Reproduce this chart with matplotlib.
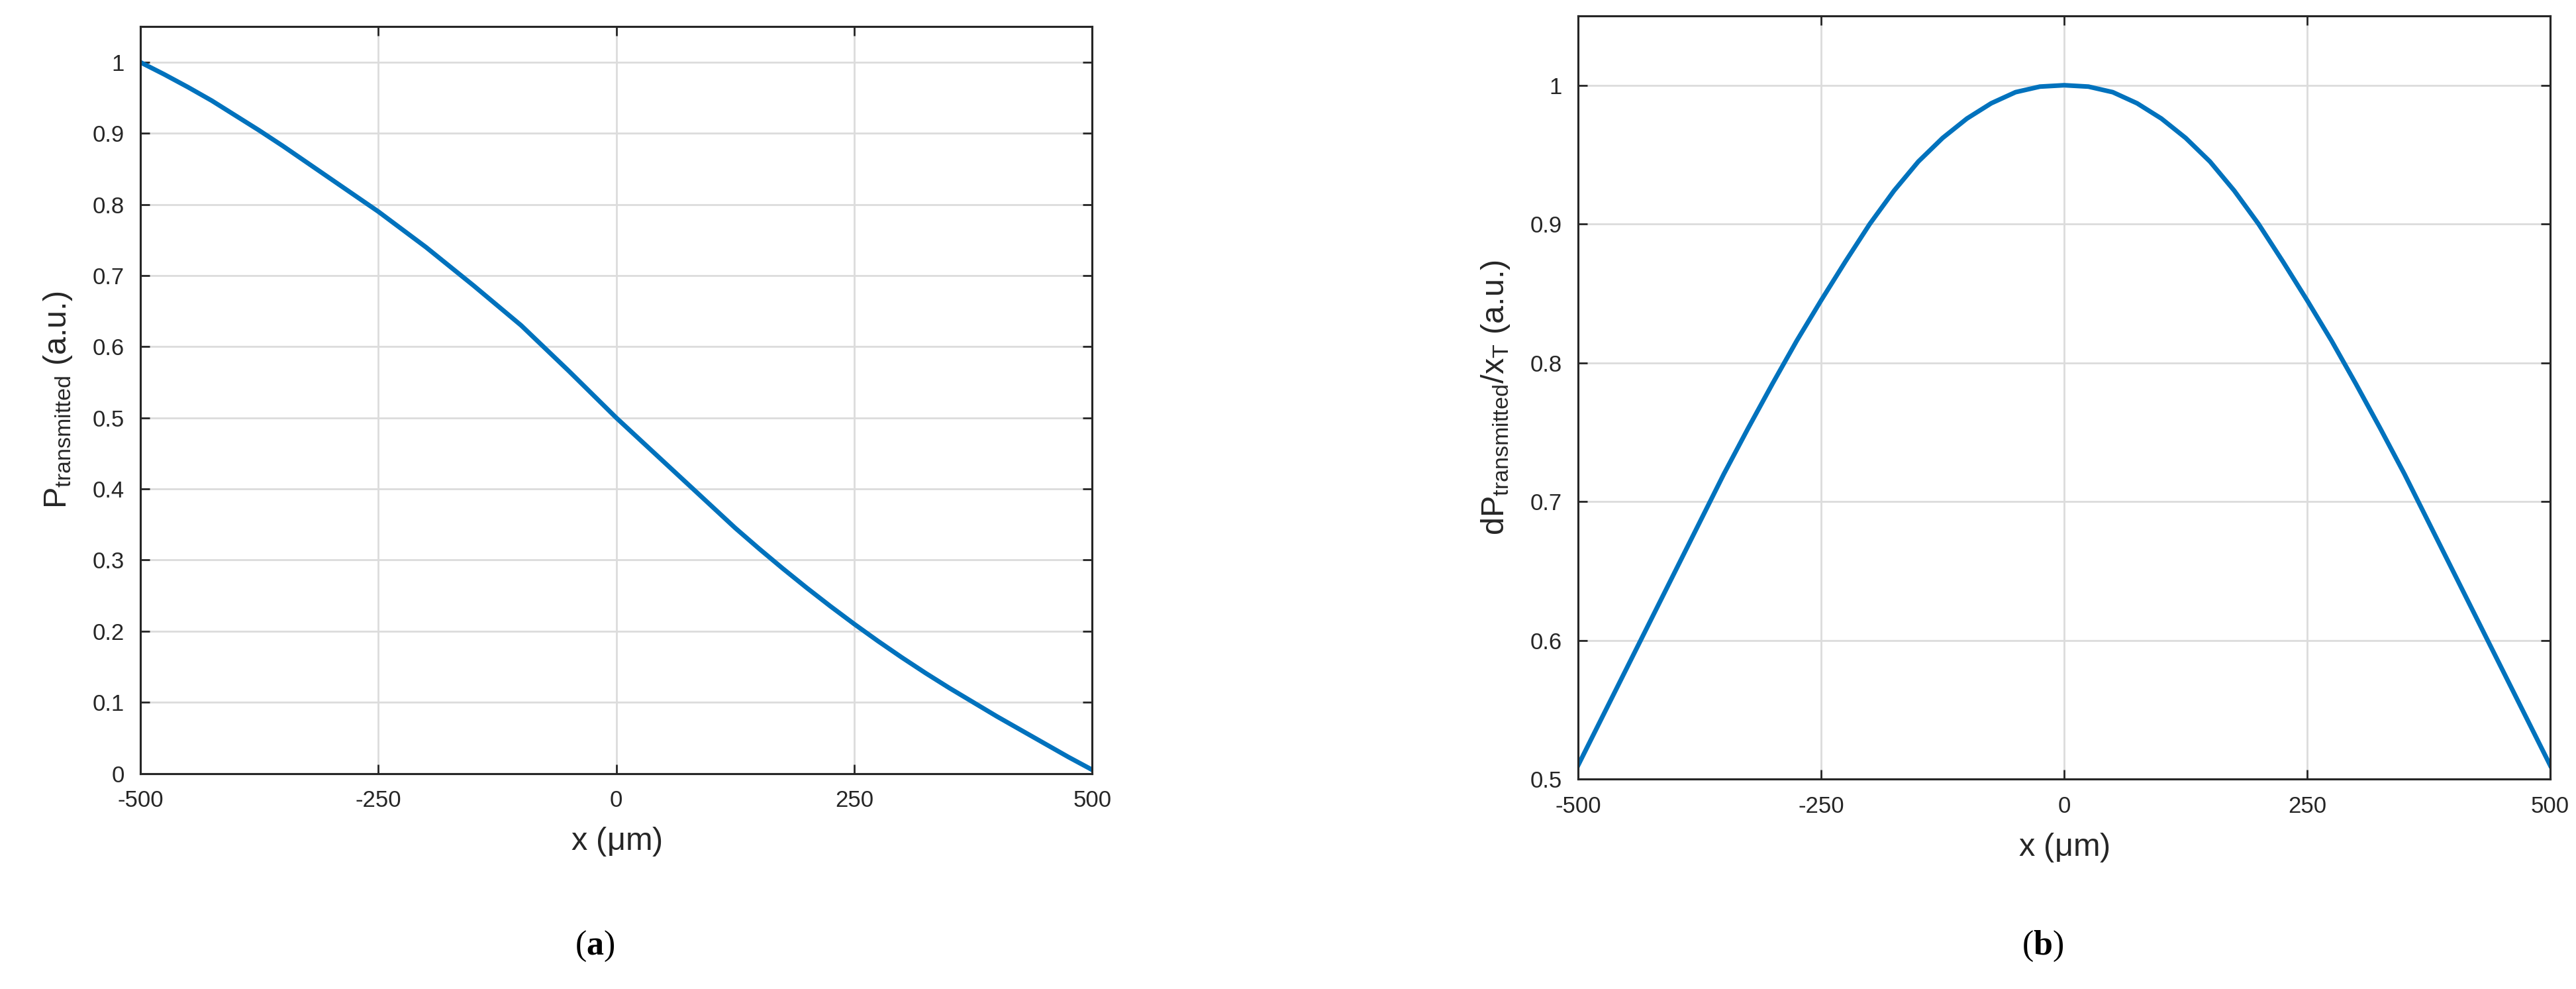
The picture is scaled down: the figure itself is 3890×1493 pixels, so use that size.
import numpy as np
import matplotlib.pyplot as plt

plt.rcParams['font.family'] = ['Liberation Sans', 'DejaVu Sans']
plt.rcParams['mathtext.fontset'] = 'custom'
plt.rcParams['mathtext.rm'] = 'Liberation Sans'
plt.rcParams['mathtext.it'] = 'Liberation Sans:italic'
plt.rcParams['mathtext.bf'] = 'Liberation Serif:bold'
plt.rcParams['mathtext.default'] = 'regular'

# data
x_um = [-500, -475, -450, -425, -400, -375, -350, -325, -300, -275, -250,
        -225, -200, -175, -150, -125, -100, -75, -50, -25, 0,
        25, 50, 75, 100, 125, 150, 175, 200, 225, 250,
        275, 300, 325, 350, 375, 400, 425, 450, 475, 500]
p_trans = [1.0, 0.983, 0.965, 0.946, 0.925, 0.904, 0.882, 0.859, 0.836, 0.813, 0.79,
           0.765, 0.74, 0.713, 0.686, 0.658, 0.63, 0.598, 0.566, 0.533, 0.5,
           0.469, 0.438, 0.407, 0.376, 0.345, 0.316, 0.288, 0.261, 0.235, 0.21,
           0.186, 0.163, 0.141, 0.12, 0.1, 0.08, 0.061, 0.042, 0.023, 0.005]
dp_trans = [0.51, 0.545, 0.58, 0.615, 0.65, 0.685, 0.72, 0.753, 0.785, 0.816, 0.845,
            0.873, 0.90, 0.924, 0.945, 0.962, 0.976, 0.987, 0.995, 0.999, 1.0,
            0.999, 0.995, 0.987, 0.976, 0.962, 0.945, 0.924, 0.90, 0.873, 0.845,
            0.816, 0.785, 0.753, 0.72, 0.685, 0.65, 0.615, 0.58, 0.545, 0.51]

xticks = [-500, -250, 0, 250, 500]
BLUE = '#0072BD'
TXT = '#262626'

fig = plt.figure(figsize=(15.56, 5.972), dpi=250)
ax1 = fig.add_axes([0.0545, 0.218, 0.3695, 0.755])
ax2 = fig.add_axes([0.6126, 0.212, 0.3774, 0.772])


def style(ax, ylim, yticks, ylabel):
    ax.set_xlim(-500, 500)
    ax.set_ylim(*ylim)
    ax.set_xticks(xticks)
    ax.set_xticklabels([str(t) for t in xticks])
    ax.set_yticks(yticks)
    ax.set_yticklabels([('%g' % t) for t in yticks])
    ax.grid(True, color='#dcdcdc', linewidth=0.8)
    ax.tick_params(direction='in', top=True, right=True, labelsize=10,
                   colors=TXT, length=4, width=0.8, pad=7)
    for s in ax.spines.values():
        s.set_color(TXT)
        s.set_linewidth(0.9)
    ax.set_xlabel(r'x ($\mu$m)', fontsize=14, color=TXT, labelpad=6)
    ax.set_ylabel(ylabel, fontsize=14, color=TXT, labelpad=8)


ax1.plot(x_um, p_trans, color=BLUE, linewidth=2)
style(ax1, (0, 1.05), [0, 0.1, 0.2, 0.3, 0.4, 0.5, 0.6, 0.7, 0.8, 0.9, 1],
      r'P$_{transmitted}$ (a.u.)')

ax2.plot(x_um, dp_trans, color=BLUE, linewidth=2)
style(ax2, (0.5, 1.05), [0.5, 0.6, 0.7, 0.8, 0.9, 1],
      r'dP$_{transmitted}$/x$_{T}$ (a.u.)')

fig.text(0.231, 0.035, r'($\mathbf{a}$)', fontsize=15, ha='center', family='Liberation Serif')
fig.text(0.793, 0.035, r'($\mathbf{b}$)', fontsize=15, ha='center', family='Liberation Serif')

fig.savefig('out.png', dpi=250)
